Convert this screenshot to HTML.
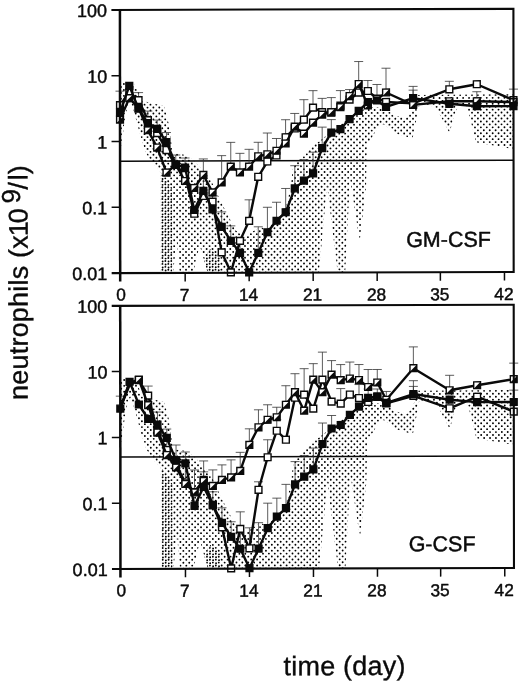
<!DOCTYPE html>
<html lang="en"><head><meta charset="utf-8"><title>neutrophils vs time</title>
<style>
html,body{margin:0;padding:0;background:#fff;}
body{width:520px;height:684px;overflow:hidden;}
svg{display:block;}
text{font-family:"Liberation Sans",sans-serif;fill:#0a0a0a;stroke:#0a0a0a;stroke-width:0.45;stroke-linejoin:round;}
.tk{font-size:18px;}
.big{stroke-width:0.35;}
.ax{stroke:#0a0a0a;stroke-width:2.1;fill:none;stroke-linecap:butt;}
.tick{stroke:#0a0a0a;stroke-width:1.5;fill:none;}
.ln{stroke:#0a0a0a;stroke-width:2.4;fill:none;stroke-linejoin:round;}
.eb{stroke:#333;stroke-width:0.8;fill:none;}
.mf{fill:#0a0a0a;stroke:#0a0a0a;stroke-width:1.4;}
.mo{fill:#fff;stroke:#0a0a0a;stroke-width:1.4;}
.mh{fill:#0a0a0a;stroke:none;}
</style></head><body>
<svg width="520" height="684" viewBox="0 0 520 684">
<defs>
<path id="dotfield" d="M118.00 78.00H516M120.95 80.95H516M118.00 83.90H516M120.95 86.85H516M118.00 89.80H516M120.95 92.75H516M118.00 95.70H516M120.95 98.65H516M118.00 101.60H516M120.95 104.55H516M118.00 107.50H516M120.95 110.45H516M118.00 113.40H516M120.95 116.35H516M118.00 119.30H516M120.95 122.25H516M118.00 125.20H516M120.95 128.15H516M118.00 131.10H516M120.95 134.05H516M118.00 137.00H516M120.95 139.95H516M118.00 142.90H516M120.95 145.85H516M118.00 148.80H516M120.95 151.75H516M118.00 154.70H516M120.95 157.65H516M118.00 160.60H516M120.95 163.55H516M118.00 166.50H516M120.95 169.45H516M118.00 172.40H516M120.95 175.35H516M118.00 178.30H516M120.95 181.25H516M118.00 184.20H516M120.95 187.15H516M118.00 190.10H516M120.95 193.05H516M118.00 196.00H516M120.95 198.95H516M118.00 201.90H516M120.95 204.85H516M118.00 207.80H516M120.95 210.75H516M118.00 213.70H516M120.95 216.65H516M118.00 219.60H516M120.95 222.55H516M118.00 225.50H516M120.95 228.45H516M118.00 231.40H516M120.95 234.35H516M118.00 237.30H516M120.95 240.25H516M118.00 243.20H516M120.95 246.15H516M118.00 249.10H516M120.95 252.05H516M118.00 255.00H516M120.95 257.95H516M118.00 260.90H516M120.95 263.85H516M118.00 266.80H516M120.95 269.75H516M118.00 272.70H516" stroke="#000" stroke-width="1.9" stroke-linecap="round" stroke-dasharray="0 5.9" fill="none"/>
<clipPath id="shade"><polygon points="120.00,82.00 134.00,83.00 143.00,101.00 164.00,106.00 169.00,125.00 172.50,153.00 186.00,155.00 193.00,160.00 210.00,178.00 220.00,200.00 229.00,218.00 236.00,231.00 244.00,237.00 252.00,232.00 261.00,227.00 266.00,231.00 276.00,220.00 285.00,211.00 290.00,190.00 293.00,168.00 300.00,158.00 310.00,148.00 320.00,141.00 330.00,133.00 340.00,125.00 360.00,112.50 367.00,107.00 388.00,109.00 393.00,116.00 406.00,118.00 413.00,111.00 416.00,95.50 513.50,95.00 513.50,150.00 476.00,143.00 467.00,107.00 459.00,105.00 454.00,116.00 449.60,134.00 438.00,112.00 430.00,105.50 417.00,107.00 418.00,112.00 412.50,139.00 396.00,134.00 384.00,125.00 380.00,124.50 367.00,146.00 366.00,187.00 359.50,242.00 350.00,179.00 345.00,272.90 337.50,272.90 327.00,186.00 318.75,272.90 207.50,272.90 199.50,245.00 193.00,272.90 179.50,272.90 176.50,238.00 173.00,272.90 161.00,272.90 160.50,172.00 152.00,163.00 146.00,153.00 141.00,138.00 134.00,112.00 130.00,101.00 127.00,108.00 124.00,125.00 121.50,145.00 120.00,146.00"/></clipPath>
<clipPath id="dense"><polygon points="160.70,172.00 166.00,178.00 172.00,188.00 172.00,272.90 160.70,272.90"/><polygon points="207.50,272.90 203.50,259.00 210.00,249.00 220.00,257.00 220.00,272.90"/></clipPath>
</defs>
<rect x="0" y="0" width="520" height="684" fill="#fff"/>
<g transform="matrix(1 -0.0026 0.001 1 -0.1 0.47)">
<g>
<g transform="translate(0 0.0)"><g clip-path="url(#shade)"><use href="#dotfield"/></g><g clip-path="url(#dense)"><use href="#dotfield" x="3.2" y="0.6"/></g></g>
<line x1="120.0" y1="161.00" x2="513.5" y2="161.00" stroke="#0a0a0a" stroke-width="1.5"/>
<path class="eb" d="M120.00 105.00V91.00M115.50 91.00H124.50M138.57 100.00V92.50M134.07 92.50H143.07M147.86 120.00V111.00M143.36 111.00H152.36M157.14 130.00V120.00M152.64 120.00H161.64M166.43 142.00V132.50M161.93 132.50H170.93M175.71 165.00V155.00M171.21 155.00H180.21M185.00 167.00V158.00M180.50 158.00H189.50M203.29 175.00V159.00M198.79 159.00H207.79M221.57 182.50V155.75M217.07 155.75H226.07M230.71 166.75V142.50M226.21 142.50H235.21M239.86 172.50V153.50M235.36 153.50H244.36M249.00 166.75V149.50M244.50 149.50H253.50M258.14 156.50V142.50M253.64 142.50H262.64M267.29 154.50V133.25M262.79 133.25H271.79M276.43 151.00V138.75M271.93 138.75H280.93M285.57 137.50V120.00M281.07 120.00H290.07M294.71 127.00V113.75M290.21 113.75H299.21M303.86 120.00V100.00M299.36 100.00H308.36M313.00 108.00V91.00M308.50 91.00H317.50M322.14 112.50V98.75M317.64 98.75H326.64M331.29 112.50V98.00M326.79 98.00H335.79M340.43 106.00V91.00M335.93 91.00H344.93M349.57 96.00V90.00M345.07 90.00H354.07M358.71 84.50V62.00M354.21 62.00H363.21M367.86 91.00V81.00M363.36 81.00H372.36M377.00 97.00V85.00M372.50 85.00H381.50M386.03 92.50V68.75M381.53 68.75H390.53M413.11 98.75V87.00M408.61 87.00H417.61M413.11 98.75V90.75M408.61 90.75H417.61M449.36 90.00V82.00M444.86 82.00H453.86M476.83 102.00V92.50M472.33 92.50H481.33M513.47 101.00V90.00M508.97 90.00H517.97M249.00 221.00V200.00M244.50 200.00H253.50"/>
<path class="eb" d="M239.86 253.00V238.00M235.36 238.00H244.36M258.14 253.00V227.00M253.64 227.00H262.64M267.29 232.50V207.50M262.79 207.50H271.79M276.43 221.00V202.50M271.93 202.50H280.93M285.57 212.50V188.75M281.07 188.75H290.07M294.71 188.75V166.00M290.21 166.00H299.21M303.86 181.00V160.00M299.36 160.00H308.36M313.00 173.75V152.50M308.50 152.50H317.50M322.14 148.50V127.50M317.64 127.50H326.64M331.29 133.00V120.00M326.79 120.00H335.79M203.29 191.00V176.00M198.79 176.00H207.79M212.43 209.50V196.00M207.93 196.00H216.93M221.57 227.00V212.00M217.07 212.00H226.07M230.71 241.00V226.00M226.21 226.00H235.21"/>
<polyline class="ln" points="120.00,105.00 129.29,92.00 138.57,100.00 147.86,120.00 157.14,133.00 166.43,150.00 175.71,165.00 185.00,175.00 194.14,213.75 203.29,196.00 212.43,201.75 221.57,252.50 230.71,272.50 239.86,241.00 249.00,221.00 258.14,177.00 267.29,161.75 276.43,155.75 285.57,137.50 294.71,128.75 303.86,120.00 313.00,108.00 322.14,112.50 331.29,113.00 340.43,106.00 349.57,100.00 358.71,93.00 367.86,91.50 377.00,99.00 386.03,102.50 413.11,104.00 449.36,90.00 476.83,85.00 513.47,101.00"/><rect class="mo" x="116.60" y="101.60" width="6.8" height="6.8"/><rect class="mo" x="125.89" y="88.60" width="6.8" height="6.8"/><rect class="mo" x="135.17" y="96.60" width="6.8" height="6.8"/><rect class="mo" x="144.46" y="116.60" width="6.8" height="6.8"/><rect class="mo" x="153.74" y="129.60" width="6.8" height="6.8"/><rect class="mo" x="163.03" y="146.60" width="6.8" height="6.8"/><rect class="mo" x="172.31" y="161.60" width="6.8" height="6.8"/><rect class="mo" x="181.60" y="171.60" width="6.8" height="6.8"/><rect class="mo" x="190.74" y="210.35" width="6.8" height="6.8"/><rect class="mo" x="199.89" y="192.60" width="6.8" height="6.8"/><rect class="mo" x="209.03" y="198.35" width="6.8" height="6.8"/><rect class="mo" x="218.17" y="249.10" width="6.8" height="6.8"/><rect class="mo" x="227.31" y="269.10" width="6.8" height="6.8"/><rect class="mo" x="236.46" y="237.60" width="6.8" height="6.8"/><rect class="mo" x="245.60" y="217.60" width="6.8" height="6.8"/><rect class="mo" x="254.74" y="173.60" width="6.8" height="6.8"/><rect class="mo" x="263.89" y="158.35" width="6.8" height="6.8"/><rect class="mo" x="273.03" y="152.35" width="6.8" height="6.8"/><rect class="mo" x="282.17" y="134.10" width="6.8" height="6.8"/><rect class="mo" x="291.31" y="125.35" width="6.8" height="6.8"/><rect class="mo" x="300.46" y="116.60" width="6.8" height="6.8"/><rect class="mo" x="309.60" y="104.60" width="6.8" height="6.8"/><rect class="mo" x="318.74" y="109.10" width="6.8" height="6.8"/><rect class="mo" x="327.89" y="109.60" width="6.8" height="6.8"/><rect class="mo" x="337.03" y="102.60" width="6.8" height="6.8"/><rect class="mo" x="346.17" y="96.60" width="6.8" height="6.8"/><rect class="mo" x="355.31" y="89.60" width="6.8" height="6.8"/><rect class="mo" x="364.46" y="88.10" width="6.8" height="6.8"/><rect class="mo" x="373.60" y="95.60" width="6.8" height="6.8"/><rect class="mo" x="382.63" y="99.10" width="6.8" height="6.8"/><rect class="mo" x="409.71" y="100.60" width="6.8" height="6.8"/><rect class="mo" x="445.96" y="86.60" width="6.8" height="6.8"/><rect class="mo" x="473.43" y="81.60" width="6.8" height="6.8"/><rect class="mo" x="510.07" y="97.60" width="6.8" height="6.8"/>
<polyline class="ln" points="120.00,119.50 129.29,98.00 138.57,108.00 147.86,130.00 157.14,147.50 166.43,172.50 175.71,165.00 185.00,181.00 194.14,188.00 203.29,175.00 212.43,192.50 221.57,182.50 230.71,166.75 239.86,172.50 249.00,166.75 258.14,156.50 267.29,154.50 276.43,151.00 285.57,143.75 294.71,127.00 303.86,134.00 313.00,123.00 322.14,115.00 331.29,112.50 340.43,107.50 349.57,96.50 358.71,84.50 367.86,106.00 377.00,99.50 386.03,93.00 413.11,105.50 449.36,102.00 476.83,102.00 513.47,103.00"/><rect class="mo" x="116.60" y="116.10" width="6.8" height="6.8"/><path class="mh" d="M123.40 116.10L123.40 122.90L116.60 122.90Z"/><rect class="mo" x="125.89" y="94.60" width="6.8" height="6.8"/><path class="mh" d="M132.69 94.60L132.69 101.40L125.89 101.40Z"/><rect class="mo" x="135.17" y="104.60" width="6.8" height="6.8"/><path class="mh" d="M141.97 104.60L141.97 111.40L135.17 111.40Z"/><rect class="mo" x="144.46" y="126.60" width="6.8" height="6.8"/><path class="mh" d="M151.26 126.60L151.26 133.40L144.46 133.40Z"/><rect class="mo" x="153.74" y="144.10" width="6.8" height="6.8"/><path class="mh" d="M160.54 144.10L160.54 150.90L153.74 150.90Z"/><rect class="mo" x="163.03" y="169.10" width="6.8" height="6.8"/><path class="mh" d="M169.83 169.10L169.83 175.90L163.03 175.90Z"/><rect class="mo" x="172.31" y="161.60" width="6.8" height="6.8"/><path class="mh" d="M179.11 161.60L179.11 168.40L172.31 168.40Z"/><rect class="mo" x="181.60" y="177.60" width="6.8" height="6.8"/><path class="mh" d="M188.40 177.60L188.40 184.40L181.60 184.40Z"/><rect class="mo" x="190.74" y="184.60" width="6.8" height="6.8"/><path class="mh" d="M197.54 184.60L197.54 191.40L190.74 191.40Z"/><rect class="mo" x="199.89" y="171.60" width="6.8" height="6.8"/><path class="mh" d="M206.69 171.60L206.69 178.40L199.89 178.40Z"/><rect class="mo" x="209.03" y="189.10" width="6.8" height="6.8"/><path class="mh" d="M215.83 189.10L215.83 195.90L209.03 195.90Z"/><rect class="mo" x="218.17" y="179.10" width="6.8" height="6.8"/><path class="mh" d="M224.97 179.10L224.97 185.90L218.17 185.90Z"/><rect class="mo" x="227.31" y="163.35" width="6.8" height="6.8"/><path class="mh" d="M234.11 163.35L234.11 170.15L227.31 170.15Z"/><rect class="mo" x="236.46" y="169.10" width="6.8" height="6.8"/><path class="mh" d="M243.26 169.10L243.26 175.90L236.46 175.90Z"/><rect class="mo" x="245.60" y="163.35" width="6.8" height="6.8"/><path class="mh" d="M252.40 163.35L252.40 170.15L245.60 170.15Z"/><rect class="mo" x="254.74" y="153.10" width="6.8" height="6.8"/><path class="mh" d="M261.54 153.10L261.54 159.90L254.74 159.90Z"/><rect class="mo" x="263.89" y="151.10" width="6.8" height="6.8"/><path class="mh" d="M270.69 151.10L270.69 157.90L263.89 157.90Z"/><rect class="mo" x="273.03" y="147.60" width="6.8" height="6.8"/><path class="mh" d="M279.83 147.60L279.83 154.40L273.03 154.40Z"/><rect class="mo" x="282.17" y="140.35" width="6.8" height="6.8"/><path class="mh" d="M288.97 140.35L288.97 147.15L282.17 147.15Z"/><rect class="mo" x="291.31" y="123.60" width="6.8" height="6.8"/><path class="mh" d="M298.11 123.60L298.11 130.40L291.31 130.40Z"/><rect class="mo" x="300.46" y="130.60" width="6.8" height="6.8"/><path class="mh" d="M307.26 130.60L307.26 137.40L300.46 137.40Z"/><rect class="mo" x="309.60" y="119.60" width="6.8" height="6.8"/><path class="mh" d="M316.40 119.60L316.40 126.40L309.60 126.40Z"/><rect class="mo" x="318.74" y="111.60" width="6.8" height="6.8"/><path class="mh" d="M325.54 111.60L325.54 118.40L318.74 118.40Z"/><rect class="mo" x="327.89" y="109.10" width="6.8" height="6.8"/><path class="mh" d="M334.69 109.10L334.69 115.90L327.89 115.90Z"/><rect class="mo" x="337.03" y="104.10" width="6.8" height="6.8"/><path class="mh" d="M343.83 104.10L343.83 110.90L337.03 110.90Z"/><rect class="mo" x="346.17" y="93.10" width="6.8" height="6.8"/><path class="mh" d="M352.97 93.10L352.97 99.90L346.17 99.90Z"/><rect class="mo" x="355.31" y="81.10" width="6.8" height="6.8"/><path class="mh" d="M362.11 81.10L362.11 87.90L355.31 87.90Z"/><rect class="mo" x="364.46" y="102.60" width="6.8" height="6.8"/><path class="mh" d="M371.26 102.60L371.26 109.40L364.46 109.40Z"/><rect class="mo" x="373.60" y="96.10" width="6.8" height="6.8"/><path class="mh" d="M380.40 96.10L380.40 102.90L373.60 102.90Z"/><rect class="mo" x="382.63" y="89.60" width="6.8" height="6.8"/><path class="mh" d="M389.43 89.60L389.43 96.40L382.63 96.40Z"/><rect class="mo" x="409.71" y="102.10" width="6.8" height="6.8"/><path class="mh" d="M416.51 102.10L416.51 108.90L409.71 108.90Z"/><rect class="mo" x="445.96" y="98.60" width="6.8" height="6.8"/><path class="mh" d="M452.76 98.60L452.76 105.40L445.96 105.40Z"/><rect class="mo" x="473.43" y="98.60" width="6.8" height="6.8"/><path class="mh" d="M480.23 98.60L480.23 105.40L473.43 105.40Z"/><rect class="mo" x="510.07" y="99.60" width="6.8" height="6.8"/><path class="mh" d="M516.87 99.60L516.87 106.40L510.07 106.40Z"/>
<polyline class="ln" points="120.00,112.50 129.29,85.75 138.57,108.50 147.86,123.00 157.14,128.75 166.43,142.00 175.71,164.50 185.00,167.50 194.14,210.00 203.29,191.00 212.43,209.50 221.57,227.00 230.71,241.00 239.86,253.00 249.00,272.50 258.14,253.00 267.29,232.50 276.43,221.00 285.57,212.50 294.71,188.75 303.86,181.00 313.00,173.75 322.14,148.50 331.29,133.00 340.43,129.50 349.57,119.50 358.71,111.25 367.86,102.50 377.00,101.00 386.03,107.50 413.11,98.75 449.36,104.50 476.83,107.00 513.47,107.00"/><rect class="mf" x="116.60" y="109.10" width="6.8" height="6.8"/><rect class="mf" x="125.89" y="82.35" width="6.8" height="6.8"/><rect class="mf" x="135.17" y="105.10" width="6.8" height="6.8"/><rect class="mf" x="144.46" y="119.60" width="6.8" height="6.8"/><rect class="mf" x="153.74" y="125.35" width="6.8" height="6.8"/><rect class="mf" x="163.03" y="138.60" width="6.8" height="6.8"/><rect class="mf" x="172.31" y="161.10" width="6.8" height="6.8"/><rect class="mf" x="181.60" y="164.10" width="6.8" height="6.8"/><rect class="mf" x="190.74" y="206.60" width="6.8" height="6.8"/><rect class="mf" x="199.89" y="187.60" width="6.8" height="6.8"/><rect class="mf" x="209.03" y="206.10" width="6.8" height="6.8"/><rect class="mf" x="218.17" y="223.60" width="6.8" height="6.8"/><rect class="mf" x="227.31" y="237.60" width="6.8" height="6.8"/><rect class="mf" x="236.46" y="249.60" width="6.8" height="6.8"/><rect class="mf" x="245.60" y="269.10" width="6.8" height="6.8"/><rect class="mf" x="254.74" y="249.60" width="6.8" height="6.8"/><rect class="mf" x="263.89" y="229.10" width="6.8" height="6.8"/><rect class="mf" x="273.03" y="217.60" width="6.8" height="6.8"/><rect class="mf" x="282.17" y="209.10" width="6.8" height="6.8"/><rect class="mf" x="291.31" y="185.35" width="6.8" height="6.8"/><rect class="mf" x="300.46" y="177.60" width="6.8" height="6.8"/><rect class="mf" x="309.60" y="170.35" width="6.8" height="6.8"/><rect class="mf" x="318.74" y="145.10" width="6.8" height="6.8"/><rect class="mf" x="327.89" y="129.60" width="6.8" height="6.8"/><rect class="mf" x="337.03" y="126.10" width="6.8" height="6.8"/><rect class="mf" x="346.17" y="116.10" width="6.8" height="6.8"/><rect class="mf" x="355.31" y="107.85" width="6.8" height="6.8"/><rect class="mf" x="364.46" y="99.10" width="6.8" height="6.8"/><rect class="mf" x="373.60" y="97.60" width="6.8" height="6.8"/><rect class="mf" x="382.63" y="104.10" width="6.8" height="6.8"/><rect class="mf" x="409.71" y="95.35" width="6.8" height="6.8"/><rect class="mf" x="445.96" y="101.10" width="6.8" height="6.8"/><rect class="mf" x="473.43" y="103.60" width="6.8" height="6.8"/><rect class="mf" x="510.07" y="103.60" width="6.8" height="6.8"/>
<path class="ax" d="M111.5 9.75H513.5V272.9H111.5"/>
<path class="ax" style="stroke-width:2.5" d="M120.0 9.75V281.4"/>
<text class="tk" x="107.2" y="16.65" text-anchor="end">100</text>
<line class="tick" x1="111.5" y1="75.54" x2="120.0" y2="75.54"/>
<text class="tk" x="107.2" y="82.44" text-anchor="end">10</text>
<line class="tick" x1="111.5" y1="141.32" x2="120.0" y2="141.32"/>
<text class="tk" x="107.2" y="148.22" text-anchor="end">1</text>
<line class="tick" x1="111.5" y1="207.11" x2="120.0" y2="207.11"/>
<text class="tk" x="107.2" y="214.01" text-anchor="end">0.1</text>
<text class="tk" x="107.2" y="279.80" text-anchor="end">0.01</text>
<line class="tick" x1="185.00" y1="272.9" x2="185.00" y2="281.4"/>
<line class="tick" x1="249.00" y1="272.9" x2="249.00" y2="281.4"/>
<line class="tick" x1="313.00" y1="272.9" x2="313.00" y2="281.4"/>
<line class="tick" x1="377.00" y1="272.9" x2="377.00" y2="281.4"/>
<line class="tick" x1="440.20" y1="272.9" x2="440.20" y2="281.4"/>
<line class="tick" x1="504.30" y1="272.9" x2="504.30" y2="281.4"/>
<text class="tk" style="font-size:17.3px" x="120.90" y="300.30" text-anchor="middle">0</text>
<text class="tk" style="font-size:17.3px" x="184.40" y="300.90" text-anchor="middle">7</text>
<text class="tk" style="font-size:17.3px" x="248.40" y="300.90" text-anchor="middle">14</text>
<text class="tk" style="font-size:17.3px" x="312.40" y="300.90" text-anchor="middle">21</text>
<text class="tk" style="font-size:17.3px" x="376.40" y="300.90" text-anchor="middle">28</text>
<text class="tk" style="font-size:17.3px" x="439.60" y="300.90" text-anchor="middle">35</text>
<text class="tk" style="font-size:17.3px" x="503.70" y="300.90" text-anchor="middle">42</text>
<text x="406" y="247.50" font-size="21.5">GM-CSF</text>
</g>
<g>
<g transform="translate(0 295.9)"><g clip-path="url(#shade)"><use href="#dotfield"/></g><g clip-path="url(#dense)"><use href="#dotfield" x="3.2" y="0.6"/></g></g>
<line x1="120.0" y1="456.90" x2="513.5" y2="456.90" stroke="#0a0a0a" stroke-width="1.5"/>
<path class="eb" d="M120.00 408.00V396.00M115.50 396.00H124.50M147.86 395.00V386.00M143.36 386.00H152.36M157.14 425.00V412.00M152.64 412.00H161.64M166.43 450.00V429.00M161.93 429.00H170.93M175.71 465.00V445.00M171.21 445.00H180.21M185.00 482.00V452.00M180.50 452.00H189.50M194.14 492.00V470.00M189.64 470.00H198.64M203.29 480.00V461.00M198.79 461.00H207.79M212.43 486.00V470.00M207.93 470.00H216.93M221.57 480.00V465.00M217.07 465.00H226.07M230.71 477.50V460.00M226.21 460.00H235.21M239.86 471.00V452.50M235.36 452.50H244.36M249.00 445.00V429.00M244.50 429.00H253.50M258.14 427.50V410.00M253.64 410.00H262.64M267.29 420.00V405.00M262.79 405.00H271.79M276.43 417.50V407.50M271.93 407.50H280.93M285.57 405.00V386.00M281.07 386.00H290.07M294.71 392.50V374.00M290.21 374.00H299.21M303.86 394.00V369.00M299.36 369.00H308.36M313.00 380.00V364.00M308.50 364.00H317.50M322.14 380.00V352.50M317.64 352.50H326.64M331.29 375.00V361.00M326.79 361.00H335.79M340.43 379.00V365.00M335.93 365.00H344.93M349.57 377.50V362.50M345.07 362.50H354.07M358.71 380.00V365.00M354.21 365.00H363.21M367.86 386.00V370.00M363.36 370.00H372.36M377.00 382.50V370.00M372.50 370.00H381.50M413.11 367.50V347.50M408.61 347.50H417.61M413.11 394.00V381.30M408.61 381.30H417.61M413.11 394.00V387.00M408.61 387.00H417.61M449.36 391.00V376.00M444.86 376.00H453.86M513.47 403.00V391.00M508.97 391.00H517.97M513.47 380.00V364.00M508.97 364.00H517.97M258.14 490.00V482.00M253.64 482.00H262.64M340.43 404.00V389.00M335.93 389.00H344.93M267.29 457.50V440.00M262.79 440.00H271.79M276.43 431.00V420.00M271.93 420.00H280.93M239.86 529.00V512.00M235.36 512.00H244.36M249.00 548.50V528.00M244.50 528.00H253.50M358.71 398.00V385.00M354.21 385.00H363.21M367.86 402.00V389.50M363.36 389.50H372.36M377.00 397.00V389.50M372.50 389.50H381.50M386.03 403.00V392.00M381.53 392.00H390.53"/>
<path class="eb" d="M239.86 548.90V533.90M235.36 533.90H244.36M258.14 548.90V522.90M253.64 522.90H262.64M267.29 528.40V503.40M262.79 503.40H271.79M276.43 516.90V498.40M271.93 498.40H280.93M285.57 508.40V484.65M281.07 484.65H290.07M294.71 484.65V461.90M290.21 461.90H299.21M303.86 476.90V455.90M299.36 455.90H308.36M313.00 469.65V448.40M308.50 448.40H317.50M322.14 444.40V423.40M317.64 423.40H326.64M331.29 428.90V415.90M326.79 415.90H335.79M203.29 486.90V471.90M198.79 471.90H207.79M212.43 505.40V491.90M207.93 491.90H216.93M221.57 522.90V507.90M217.07 507.90H226.07M230.71 536.90V521.90M226.21 521.90H235.21"/>
<polyline class="ln" points="120.00,408.00 129.29,385.00 138.57,380.00 147.86,395.50 157.14,431.50 166.43,450.00 175.71,465.00 185.00,482.50 194.14,492.00 203.29,480.00 212.43,505.00 221.57,527.50 230.71,568.50 239.86,529.00 249.00,548.50 258.14,490.00 267.29,457.50 276.43,431.00 285.57,440.00 294.71,398.00 303.86,395.00 313.00,409.00 322.14,380.00 331.29,402.00 340.43,404.00 349.57,395.00 358.71,398.50 367.86,402.50 377.00,397.50 386.03,404.00 413.11,396.50 449.36,409.00 476.83,397.50 513.47,412.50"/><rect class="mo" x="135.17" y="376.60" width="6.8" height="6.8"/><rect class="mo" x="144.46" y="392.10" width="6.8" height="6.8"/><rect class="mo" x="153.74" y="428.10" width="6.8" height="6.8"/><rect class="mo" x="163.03" y="446.60" width="6.8" height="6.8"/><rect class="mo" x="172.31" y="461.60" width="6.8" height="6.8"/><rect class="mo" x="181.60" y="479.10" width="6.8" height="6.8"/><rect class="mo" x="190.74" y="488.60" width="6.8" height="6.8"/><rect class="mo" x="199.89" y="476.60" width="6.8" height="6.8"/><rect class="mo" x="209.03" y="501.60" width="6.8" height="6.8"/><rect class="mo" x="218.17" y="524.10" width="6.8" height="6.8"/><rect class="mo" x="227.31" y="565.10" width="6.8" height="6.8"/><rect class="mo" x="236.46" y="525.60" width="6.8" height="6.8"/><rect class="mo" x="245.60" y="545.10" width="6.8" height="6.8"/><rect class="mo" x="254.74" y="486.60" width="6.8" height="6.8"/><rect class="mo" x="263.89" y="454.10" width="6.8" height="6.8"/><rect class="mo" x="273.03" y="427.60" width="6.8" height="6.8"/><rect class="mo" x="282.17" y="436.60" width="6.8" height="6.8"/><rect class="mo" x="291.31" y="394.60" width="6.8" height="6.8"/><rect class="mo" x="300.46" y="391.60" width="6.8" height="6.8"/><rect class="mo" x="309.60" y="405.60" width="6.8" height="6.8"/><rect class="mo" x="318.74" y="376.60" width="6.8" height="6.8"/><rect class="mo" x="327.89" y="398.60" width="6.8" height="6.8"/><rect class="mo" x="337.03" y="400.60" width="6.8" height="6.8"/><rect class="mo" x="346.17" y="391.60" width="6.8" height="6.8"/><rect class="mo" x="355.31" y="395.10" width="6.8" height="6.8"/><rect class="mo" x="364.46" y="399.10" width="6.8" height="6.8"/><rect class="mo" x="373.60" y="394.10" width="6.8" height="6.8"/><rect class="mo" x="382.63" y="400.60" width="6.8" height="6.8"/><rect class="mo" x="409.71" y="393.10" width="6.8" height="6.8"/><rect class="mo" x="445.96" y="405.60" width="6.8" height="6.8"/><rect class="mo" x="473.43" y="394.10" width="6.8" height="6.8"/><rect class="mo" x="510.07" y="409.10" width="6.8" height="6.8"/>
<polyline class="ln" points="120.00,408.00 129.29,382.50 138.57,379.50 147.86,405.00 157.14,432.50 166.43,455.00 175.71,467.50 185.00,484.00 194.14,492.50 203.29,481.00 212.43,486.00 221.57,480.00 230.71,477.50 239.86,471.00 249.00,445.00 258.14,427.50 267.29,420.00 276.43,417.50 285.57,405.00 294.71,392.50 303.86,411.00 313.00,380.00 322.14,392.50 331.29,375.00 340.43,380.50 349.57,379.00 358.71,380.50 367.86,387.50 377.00,383.00 386.03,400.30 413.11,368.80 449.36,391.00 476.83,386.00 513.47,380.00"/><rect class="mo" x="135.17" y="376.10" width="6.8" height="6.8"/><path class="mh" d="M141.97 376.10L141.97 382.90L135.17 382.90Z"/><rect class="mo" x="144.46" y="401.60" width="6.8" height="6.8"/><path class="mh" d="M151.26 401.60L151.26 408.40L144.46 408.40Z"/><rect class="mo" x="153.74" y="429.10" width="6.8" height="6.8"/><path class="mh" d="M160.54 429.10L160.54 435.90L153.74 435.90Z"/><rect class="mo" x="163.03" y="451.60" width="6.8" height="6.8"/><path class="mh" d="M169.83 451.60L169.83 458.40L163.03 458.40Z"/><rect class="mo" x="172.31" y="464.10" width="6.8" height="6.8"/><path class="mh" d="M179.11 464.10L179.11 470.90L172.31 470.90Z"/><rect class="mo" x="181.60" y="480.60" width="6.8" height="6.8"/><path class="mh" d="M188.40 480.60L188.40 487.40L181.60 487.40Z"/><rect class="mo" x="190.74" y="489.10" width="6.8" height="6.8"/><path class="mh" d="M197.54 489.10L197.54 495.90L190.74 495.90Z"/><rect class="mo" x="199.89" y="477.60" width="6.8" height="6.8"/><path class="mh" d="M206.69 477.60L206.69 484.40L199.89 484.40Z"/><rect class="mo" x="209.03" y="482.60" width="6.8" height="6.8"/><path class="mh" d="M215.83 482.60L215.83 489.40L209.03 489.40Z"/><rect class="mo" x="218.17" y="476.60" width="6.8" height="6.8"/><path class="mh" d="M224.97 476.60L224.97 483.40L218.17 483.40Z"/><rect class="mo" x="227.31" y="474.10" width="6.8" height="6.8"/><path class="mh" d="M234.11 474.10L234.11 480.90L227.31 480.90Z"/><rect class="mo" x="236.46" y="467.60" width="6.8" height="6.8"/><path class="mh" d="M243.26 467.60L243.26 474.40L236.46 474.40Z"/><rect class="mo" x="245.60" y="441.60" width="6.8" height="6.8"/><path class="mh" d="M252.40 441.60L252.40 448.40L245.60 448.40Z"/><rect class="mo" x="254.74" y="424.10" width="6.8" height="6.8"/><path class="mh" d="M261.54 424.10L261.54 430.90L254.74 430.90Z"/><rect class="mo" x="263.89" y="416.60" width="6.8" height="6.8"/><path class="mh" d="M270.69 416.60L270.69 423.40L263.89 423.40Z"/><rect class="mo" x="273.03" y="414.10" width="6.8" height="6.8"/><path class="mh" d="M279.83 414.10L279.83 420.90L273.03 420.90Z"/><rect class="mo" x="282.17" y="401.60" width="6.8" height="6.8"/><path class="mh" d="M288.97 401.60L288.97 408.40L282.17 408.40Z"/><rect class="mo" x="291.31" y="389.10" width="6.8" height="6.8"/><path class="mh" d="M298.11 389.10L298.11 395.90L291.31 395.90Z"/><rect class="mo" x="300.46" y="407.60" width="6.8" height="6.8"/><path class="mh" d="M307.26 407.60L307.26 414.40L300.46 414.40Z"/><rect class="mo" x="309.60" y="376.60" width="6.8" height="6.8"/><path class="mh" d="M316.40 376.60L316.40 383.40L309.60 383.40Z"/><rect class="mo" x="318.74" y="389.10" width="6.8" height="6.8"/><path class="mh" d="M325.54 389.10L325.54 395.90L318.74 395.90Z"/><rect class="mo" x="327.89" y="371.60" width="6.8" height="6.8"/><path class="mh" d="M334.69 371.60L334.69 378.40L327.89 378.40Z"/><rect class="mo" x="337.03" y="377.10" width="6.8" height="6.8"/><path class="mh" d="M343.83 377.10L343.83 383.90L337.03 383.90Z"/><rect class="mo" x="346.17" y="375.60" width="6.8" height="6.8"/><path class="mh" d="M352.97 375.60L352.97 382.40L346.17 382.40Z"/><rect class="mo" x="355.31" y="377.10" width="6.8" height="6.8"/><path class="mh" d="M362.11 377.10L362.11 383.90L355.31 383.90Z"/><rect class="mo" x="364.46" y="384.10" width="6.8" height="6.8"/><path class="mh" d="M371.26 384.10L371.26 390.90L364.46 390.90Z"/><rect class="mo" x="373.60" y="379.60" width="6.8" height="6.8"/><path class="mh" d="M380.40 379.60L380.40 386.40L373.60 386.40Z"/><rect class="mo" x="382.63" y="396.90" width="6.8" height="6.8"/><path class="mh" d="M389.43 396.90L389.43 403.70L382.63 403.70Z"/><rect class="mo" x="409.71" y="365.40" width="6.8" height="6.8"/><path class="mh" d="M416.51 365.40L416.51 372.20L409.71 372.20Z"/><rect class="mo" x="445.96" y="387.60" width="6.8" height="6.8"/><path class="mh" d="M452.76 387.60L452.76 394.40L445.96 394.40Z"/><rect class="mo" x="473.43" y="382.60" width="6.8" height="6.8"/><path class="mh" d="M480.23 382.60L480.23 389.40L473.43 389.40Z"/><rect class="mo" x="510.07" y="376.60" width="6.8" height="6.8"/><path class="mh" d="M516.87 376.60L516.87 383.40L510.07 383.40Z"/>
<polyline class="ln" points="120.00,408.40 129.29,381.65 138.57,404.40 147.86,418.90 157.14,424.65 166.43,437.90 175.71,460.40 185.00,463.40 194.14,505.90 203.29,486.90 212.43,505.40 221.57,522.90 230.71,536.90 239.86,548.90 249.00,568.40 258.14,548.90 267.29,528.40 276.43,516.90 285.57,508.40 294.71,484.65 303.86,476.90 313.00,469.65 322.14,444.40 331.29,428.90 340.43,425.40 349.57,415.40 358.71,407.15 367.86,398.40 377.00,396.90 386.03,403.40 413.11,394.65 449.36,400.40 476.83,402.90 513.47,402.90"/><rect class="mf" x="116.60" y="405.00" width="6.8" height="6.8"/><rect class="mf" x="125.89" y="378.25" width="6.8" height="6.8"/><rect class="mf" x="135.17" y="401.00" width="6.8" height="6.8"/><rect class="mf" x="144.46" y="415.50" width="6.8" height="6.8"/><rect class="mf" x="153.74" y="421.25" width="6.8" height="6.8"/><rect class="mf" x="163.03" y="434.50" width="6.8" height="6.8"/><rect class="mf" x="172.31" y="457.00" width="6.8" height="6.8"/><rect class="mf" x="181.60" y="460.00" width="6.8" height="6.8"/><rect class="mf" x="190.74" y="502.50" width="6.8" height="6.8"/><rect class="mf" x="199.89" y="483.50" width="6.8" height="6.8"/><rect class="mf" x="209.03" y="502.00" width="6.8" height="6.8"/><rect class="mf" x="218.17" y="519.50" width="6.8" height="6.8"/><rect class="mf" x="227.31" y="533.50" width="6.8" height="6.8"/><rect class="mf" x="236.46" y="545.50" width="6.8" height="6.8"/><rect class="mf" x="245.60" y="565.00" width="6.8" height="6.8"/><rect class="mf" x="254.74" y="545.50" width="6.8" height="6.8"/><rect class="mf" x="263.89" y="525.00" width="6.8" height="6.8"/><rect class="mf" x="273.03" y="513.50" width="6.8" height="6.8"/><rect class="mf" x="282.17" y="505.00" width="6.8" height="6.8"/><rect class="mf" x="291.31" y="481.25" width="6.8" height="6.8"/><rect class="mf" x="300.46" y="473.50" width="6.8" height="6.8"/><rect class="mf" x="309.60" y="466.25" width="6.8" height="6.8"/><rect class="mf" x="318.74" y="441.00" width="6.8" height="6.8"/><rect class="mf" x="327.89" y="425.50" width="6.8" height="6.8"/><rect class="mf" x="337.03" y="422.00" width="6.8" height="6.8"/><rect class="mf" x="346.17" y="412.00" width="6.8" height="6.8"/><rect class="mf" x="355.31" y="403.75" width="6.8" height="6.8"/><rect class="mf" x="364.46" y="395.00" width="6.8" height="6.8"/><rect class="mf" x="373.60" y="393.50" width="6.8" height="6.8"/><rect class="mf" x="382.63" y="400.00" width="6.8" height="6.8"/><rect class="mf" x="409.71" y="391.25" width="6.8" height="6.8"/><rect class="mf" x="445.96" y="397.00" width="6.8" height="6.8"/><rect class="mf" x="473.43" y="399.50" width="6.8" height="6.8"/><rect class="mf" x="510.07" y="399.50" width="6.8" height="6.8"/>
<path class="ax" d="M111.5 305.65H513.5V568.8H111.5"/>
<path class="ax" style="stroke-width:2.5" d="M120.0 305.65V577.3"/>
<text class="tk" x="107.2" y="312.55" text-anchor="end">100</text>
<line class="tick" x1="111.5" y1="371.44" x2="120.0" y2="371.44"/>
<text class="tk" x="107.2" y="378.34" text-anchor="end">10</text>
<line class="tick" x1="111.5" y1="437.22" x2="120.0" y2="437.22"/>
<text class="tk" x="107.2" y="444.12" text-anchor="end">1</text>
<line class="tick" x1="111.5" y1="503.01" x2="120.0" y2="503.01"/>
<text class="tk" x="107.2" y="509.91" text-anchor="end">0.1</text>
<text class="tk" x="107.2" y="575.70" text-anchor="end">0.01</text>
<line class="tick" x1="185.00" y1="568.8" x2="185.00" y2="577.3"/>
<line class="tick" x1="249.00" y1="568.8" x2="249.00" y2="577.3"/>
<line class="tick" x1="313.00" y1="568.8" x2="313.00" y2="577.3"/>
<line class="tick" x1="377.00" y1="568.8" x2="377.00" y2="577.3"/>
<line class="tick" x1="440.20" y1="568.8" x2="440.20" y2="577.3"/>
<line class="tick" x1="504.30" y1="568.8" x2="504.30" y2="577.3"/>
<text class="tk" style="font-size:17.3px" x="120.90" y="596.20" text-anchor="middle">0</text>
<text class="tk" style="font-size:17.3px" x="184.40" y="596.80" text-anchor="middle">7</text>
<text class="tk" style="font-size:17.3px" x="248.40" y="596.80" text-anchor="middle">14</text>
<text class="tk" style="font-size:17.3px" x="312.40" y="596.80" text-anchor="middle">21</text>
<text class="tk" style="font-size:17.3px" x="376.40" y="596.80" text-anchor="middle">28</text>
<text class="tk" style="font-size:17.3px" x="439.60" y="596.80" text-anchor="middle">35</text>
<text class="tk" style="font-size:17.3px" x="503.70" y="596.80" text-anchor="middle">42</text>
<text x="408.2" y="551.90" font-size="21.5">G-CSF</text>
</g>
<text class="big" x="283" y="675.5" font-size="27" letter-spacing="0.2">time (day)</text>
<text id="ylab" class="big" transform="translate(27.5 399.5) rotate(-90)" font-size="27" letter-spacing="0.2">neutrophils (x<tspan x="163.7">1</tspan><tspan x="176.7">0</tspan><tspan font-size="26" x="196.3" dy="-7.5">9</tspan><tspan x="210.5" dy="7.5">/</tspan><tspan x="219.6">l</tspan><tspan x="225.6">)</tspan></text>
</g>
</svg>
</body></html>
